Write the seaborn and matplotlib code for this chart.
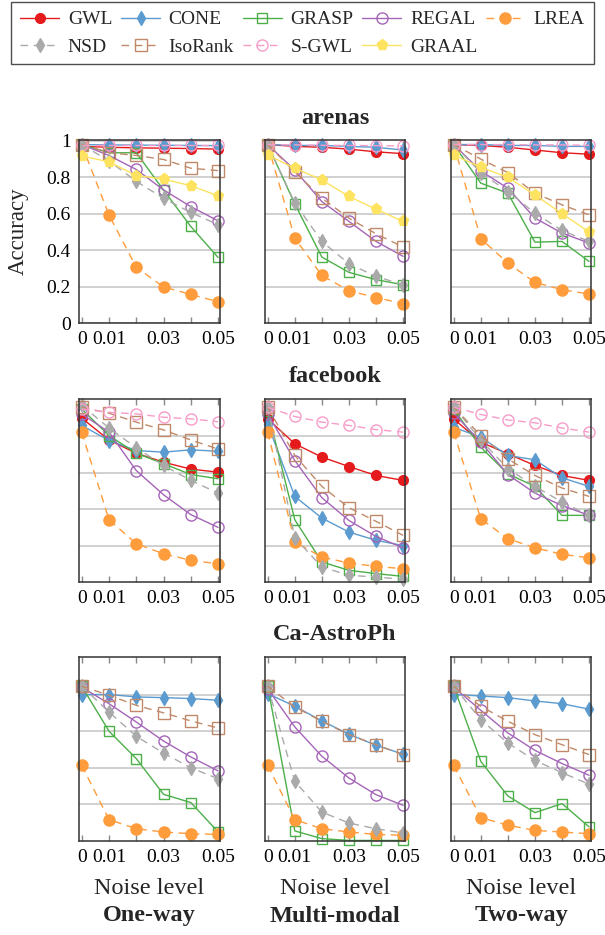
import numpy as np
import pandas as pd
import matplotlib
matplotlib.use("Agg")
import matplotlib.pyplot as plt
from matplotlib.lines import Line2D
import seaborn as sns

# ---------------- data ----------------
noise = [0, 0.01, 0.02, 0.03, 0.04, 0.05]
xtick_labels = ["0", "0.01", "", "0.03", "", "0.05"]
ytick_values = [0, 0.2, 0.4, 0.6, 0.8, 1.0]
ytick_labels = ["0", "0.2", "0.4", "0.6", "0.8", "1"]
methods = ["GWL", "CONE", "GRASP", "REGAL", "LREA", "NSD", "IsoRank", "S-GWL", "GRAAL"]
datasets = ["arenas", "facebook", "Ca-AstroPh"]
modes = ["One-way", "Multi-modal", "Two-way"]

arenas_oneway = {
    "GWL": [0.97, 0.965, 0.962, 0.96, 0.958, 0.955],
    "CONE": [0.98, 0.978, 0.977, 0.976, 0.975, 0.974],
    "GRASP": [0.98, 0.935, 0.935, 0.73, 0.53, 0.36],
    "REGAL": [0.98, 0.92, 0.843, 0.731, 0.639, 0.561],
    "LREA": [0.98, 0.593, 0.306, 0.198, 0.157, 0.117],
    "NSD": [0.98, 0.89, 0.778, 0.685, 0.607, 0.54],
    "IsoRank": [0.98, 0.935, 0.92, 0.898, 0.85, 0.837],
    "S-GWL": [0.98, 0.98, 0.98, 0.98, 0.98, 0.98],
    "GRAAL": [0.917, 0.885, 0.81, 0.79, 0.754, 0.698],
}
arenas_multi = {
    "GWL": [0.98, 0.97, 0.965, 0.955, 0.94, 0.93],
    "CONE": [0.98, 0.975, 0.975, 0.97, 0.965, 0.95],
    "GRASP": [0.98, 0.654, 0.362, 0.278, 0.238, 0.21],
    "REGAL": [0.98, 0.84, 0.667, 0.558, 0.448, 0.366],
    "LREA": [0.98, 0.466, 0.261, 0.177, 0.14, 0.106],
    "NSD": [0.98, 0.66, 0.448, 0.325, 0.256, 0.21],
    "IsoRank": [0.98, 0.83, 0.686, 0.576, 0.49, 0.417],
    "S-GWL": [0.98, 0.978, 0.976, 0.975, 0.974, 0.972],
    "GRAAL": [0.923, 0.85, 0.786, 0.695, 0.625, 0.558],
}
arenas_twoway = {
    "GWL": [0.98, 0.975, 0.965, 0.95, 0.935, 0.927],
    "CONE": [0.98, 0.98, 0.975, 0.975, 0.97, 0.97],
    "GRASP": [0.98, 0.768, 0.713, 0.444, 0.448, 0.338],
    "REGAL": [0.98, 0.835, 0.74, 0.576, 0.494, 0.439],
    "LREA": [0.98, 0.463, 0.329, 0.223, 0.183, 0.159],
    "NSD": [0.98, 0.826, 0.722, 0.603, 0.508, 0.448],
    "IsoRank": [0.98, 0.9, 0.826, 0.713, 0.649, 0.594],
    "S-GWL": [0.98, 0.98, 0.98, 0.978, 0.978, 0.976],
    "GRAAL": [0.923, 0.855, 0.80, 0.704, 0.60, 0.50],
}
facebook_oneway = {
    "GWL": [0.90, 0.78, 0.707, 0.658, 0.62, 0.603],
    "CONE": [0.86, 0.777, 0.722, 0.713, 0.726, 0.718],
    "GRASP": [0.95, 0.804, 0.707, 0.65, 0.59, 0.567],
    "REGAL": [0.923, 0.823, 0.612, 0.479, 0.37, 0.30],
    "LREA": [0.823, 0.342, 0.21, 0.155, 0.119, 0.10],
    "NSD": [0.97, 0.846, 0.737, 0.64, 0.558, 0.488],
    "IsoRank": [0.96, 0.927, 0.878, 0.835, 0.78, 0.73],
    "S-GWL": [0.95, 0.932, 0.923, 0.905, 0.896, 0.88],
}
facebook_multi = {
    "GWL": [0.896, 0.759, 0.686, 0.634, 0.585, 0.558],
    "CONE": [0.868, 0.47, 0.351, 0.274, 0.229, 0.20],
    "GRASP": [0.94, 0.342, 0.11, 0.064, 0.046, 0.031],
    "REGAL": [0.923, 0.667, 0.463, 0.338, 0.25, 0.188],
    "LREA": [0.823, 0.219, 0.137, 0.104, 0.086, 0.073],
    "NSD": [0.963, 0.243, 0.082, 0.037, 0.027, 0.015],
    "IsoRank": [0.96, 0.695, 0.525, 0.408, 0.333, 0.256],
    "S-GWL": [0.96, 0.909, 0.878, 0.86, 0.837, 0.823],
}
facebook_twoway = {
    "GWL": [0.896, 0.768, 0.704, 0.64, 0.585, 0.558],
    "CONE": [0.85, 0.795, 0.695, 0.671, 0.572, 0.525],
    "GRASP": [0.95, 0.74, 0.594, 0.525, 0.366, 0.366],
    "REGAL": [0.927, 0.768, 0.59, 0.488, 0.42, 0.366],
    "LREA": [0.823, 0.347, 0.238, 0.188, 0.152, 0.133],
    "NSD": [0.963, 0.78, 0.622, 0.525, 0.439, 0.366],
    "IsoRank": [0.96, 0.804, 0.676, 0.585, 0.516, 0.47],
    "S-GWL": [0.96, 0.92, 0.89, 0.874, 0.846, 0.823],
}
astro_oneway = {
    "CONE": [0.80, 0.80, 0.787, 0.783, 0.778, 0.769],
    "GRASP": [0.845, 0.60, 0.45, 0.255, 0.21, 0.05],
    "REGAL": [0.84, 0.75, 0.65, 0.546, 0.459, 0.383],
    "LREA": [0.413, 0.117, 0.067, 0.049, 0.04, 0.036],
    "NSD": [0.845, 0.705, 0.572, 0.48, 0.40, 0.34],
    "IsoRank": [0.845, 0.796, 0.741, 0.70, 0.656, 0.617],
}
astro_multi = {
    "CONE": [0.805, 0.736, 0.656, 0.583, 0.523, 0.474],
    "GRASP": [0.845, 0.055, 0.013, 0.003, 0.003, 0.003],
    "REGAL": [0.832, 0.623, 0.463, 0.344, 0.253, 0.195],
    "LREA": [0.413, 0.117, 0.067, 0.049, 0.036, 0.031],
    "NSD": [0.845, 0.326, 0.158, 0.098, 0.067, 0.044],
    "IsoRank": [0.845, 0.732, 0.654, 0.581, 0.526, 0.472],
}
astro_twoway = {
    "CONE": [0.80, 0.792, 0.783, 0.765, 0.75, 0.72],
    "GRASP": [0.845, 0.435, 0.246, 0.155, 0.204, 0.077],
    "REGAL": [0.84, 0.714, 0.59, 0.495, 0.423, 0.359],
    "LREA": [0.413, 0.128, 0.086, 0.058, 0.049, 0.04],
    "NSD": [0.845, 0.663, 0.535, 0.44, 0.373, 0.31],
    "IsoRank": [0.845, 0.736, 0.654, 0.581, 0.526, 0.472],
}

panels = [
    [arenas_oneway, arenas_multi, arenas_twoway],
    [facebook_oneway, facebook_multi, facebook_twoway],
    [astro_oneway, astro_multi, astro_twoway],
]

# ---------------- styles ----------------
colors = {
    "GWL": "#e41a1c", "CONE": "#5b9bd0", "GRASP": "#4daf4a", "REGAL": "#a565b8",
    "LREA": "#ff9c3c", "NSD": "#aaaaaa", "IsoRank": "#c08a6a", "S-GWL": "#f79cc9",
    "GRAAL": "#fde35f",
}
markers = {
    "GWL": "o", "CONE": "d", "GRASP": "s", "REGAL": "o", "LREA": "o",
    "NSD": "d", "IsoRank": "s", "S-GWL": "o", "GRAAL": "p",
}
filled = {"GWL": True, "CONE": True, "GRASP": False, "REGAL": False, "LREA": True,
          "NSD": True, "IsoRank": False, "S-GWL": False, "GRAAL": True}
dashed = {"GWL": False, "CONE": False, "GRASP": False, "REGAL": False, "LREA": True,
          "NSD": True, "IsoRank": True, "S-GWL": True, "GRAAL": False}
msize = {"GWL": 7.0, "CONE": 7.0, "GRASP": 6.5, "REGAL": 8.0, "LREA": 8.0,
         "NSD": 7.0, "IsoRank": 8.0, "S-GWL": 8.0, "GRAAL": 8.0}

sns.set_theme(style="white")
plt.rcParams["font.family"] = ["Liberation Serif", "DejaVu Serif"]

W, H = 605, 935
fig = plt.figure(figsize=(W / 100, H / 100), dpi=100)

col_px = [(79, 220), (265, 405), (451, 591)]
row_px = [(140, 323), (399, 582), (657, 841)]


def line_kws(m):
    kw = dict(color=colors[m], marker=markers[m], markersize=msize[m],
              linewidth=1.0, markeredgewidth=1.0, markeredgecolor=colors[m],
              markerfacecolor=colors[m] if filled[m] else "none", clip_on=False)
    if dashed[m]:
        kw["linestyle"] = (0, (5.5, 4))
    else:
        kw["linestyle"] = "-"
    return kw


for r in range(3):
    for c in range(3):
        x0, x1 = col_px[c]
        y0, y1 = row_px[r]
        ax = fig.add_axes([x0 / W, 1 - y1 / H, (x1 - x0) / W, (y1 - y0) / H])
        data = panels[r][c]
        for m in methods:
            if m not in data:
                continue
            df = pd.DataFrame({"noise": noise, "acc": data[m]})
            sns.lineplot(data=df, x="noise", y="acc", ax=ax, legend=False, **line_kws(m))
        ax.set_xlim(-0.001, 0.0507)
        ax.set_ylim(0, 1.005)
        ax.set_xlabel("")
        ax.set_ylabel("")
        ax.set_xticks(noise)
        ax.set_xticklabels(xtick_labels)
        ax.set_yticks([0.2, 0.4, 0.6, 0.8])
        ax.yaxis.grid(True, color="#c4c4c4", linewidth=1.1)
        ax.set_axisbelow(True)
        ax.tick_params(axis="x", direction="in", top=True, bottom=True, length=4,
                       width=1.0, color="#888888", labelsize=14, pad=6,
                       labelcolor="black")
        if r == 0 and c == 0:
            ax.set_yticks(ytick_values)
            ax.set_yticklabels(ytick_labels)
            ax.tick_params(axis="y", length=0, labelsize=14, pad=6, labelcolor="black")
        else:
            ax.tick_params(axis="y", length=0, labelleft=False)
        for s in ax.spines.values():
            s.set_visible(True)
            s.set_color("#333333")
            s.set_linewidth(1.1)

# row titles
for r, name in enumerate(datasets):
    fig.text(335 / W, 1 - (row_px[r][0] - 22) / H, name, ha="center", va="center",
             fontsize=17.5, fontweight="bold")

# column labels
for c, name in enumerate(modes):
    cx = (col_px[c][0] + col_px[c][1]) / 2 / W
    fig.text(cx, 1 - 888 / H, "Noise level", ha="center", va="center", fontsize=17.5)
    fig.text(cx, 1 - 916 / H, name, ha="center", va="center", fontsize=17.5,
             fontweight="bold")

fig.text(18 / W, 1 - 231 / H, "Accuracy", ha="center", va="center", rotation=90,
         fontsize=16.5)

# legend (row-major order across 5 columns)
order = ["GWL", "NSD", "CONE", "IsoRank", "GRASP", "S-GWL", "REGAL", "GRAAL", "LREA"]
handles = [Line2D([], [], **{k: v for k, v in line_kws(m).items() if k != "clip_on"})
           for m in order]
leg = fig.legend(handles, order, loc="upper center", bbox_to_anchor=(0.5, 1 - 2 / H),
                 ncol=5, frameon=True, fancybox=False, edgecolor="#222222",
                 fontsize=14, handlelength=2.0, handletextpad=0.45,
                 columnspacing=0.45, labelspacing=0.5, borderpad=0.45,
                 borderaxespad=0.0)
leg.get_frame().set_linewidth(1.0)

fig.savefig("out.png", dpi=100)
